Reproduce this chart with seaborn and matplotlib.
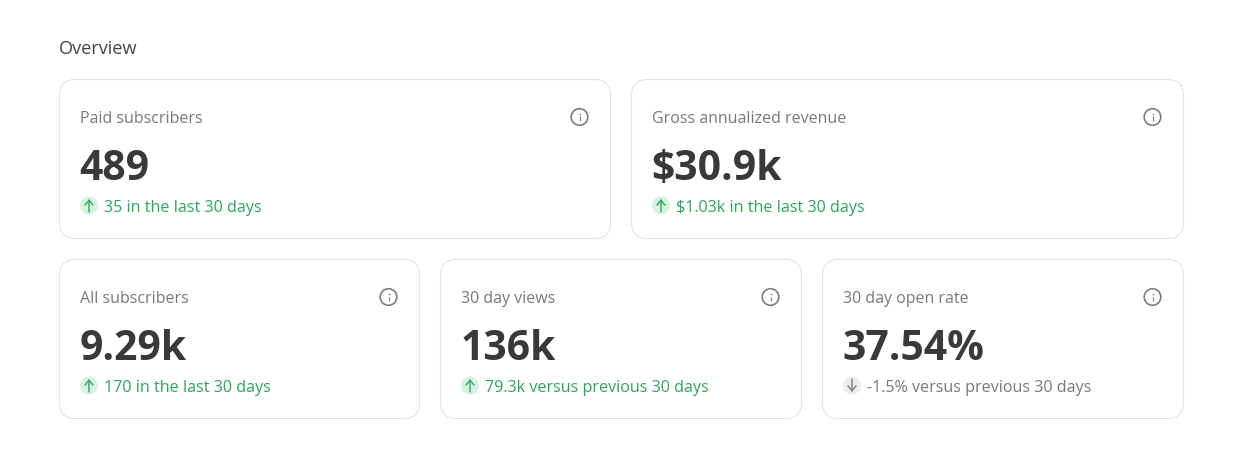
import numpy as np
import pandas as pd
import matplotlib
matplotlib.use("Agg")
import matplotlib.pyplot as plt
from matplotlib.patches import FancyBboxPatch, Circle
import seaborn as sns

# ==================== Data ==================== #
heading = "Overview"
titles = ["Paid subscribers", "Gross annualized revenue", "All subscribers", "30 day views", "30 day open rate"]
values = ["489", "$30.9k", "9.29k", "136k", "37.54%"]
deltas = ["35 in the last 30 days", "$1.03k in the last 30 days", "170 in the last 30 days",
          "79.3k versus previous 30 days", "-1.5% versus previous 30 days"]
directions = ["up", "up", "up", "up", "down"]

# card boxes in pixels: left, top, right, bottom
lefts = [59.5, 631.5, 59.5, 440.5, 822.5]
rights = [610.5, 1183.5, 419.5, 801.5, 1183.5]
tops = [79.5, 79.5, 259.5, 259.5, 259.5]
height = 159

DARK = "#3b3938"
GREY = "#7b7977"
GREEN = "#2aa85a"
FONT = "Open Sans"

sns.set_theme(style="white")
plt.rcParams['font.family'] = [FONT, 'DejaVu Sans']

fig = plt.figure(figsize=(12.39, 4.61), dpi=100)
ax = fig.add_axes([0, 0, 1, 1])
ax.set_xlim(0, 1239)
ax.set_ylim(461, 0)
ax.axis("off")

ax.text(58.5, 49.5, heading, fontsize=13.1, color="#454341", va="center", ha="left")


def draw_card(l, r, t, title, value, delta, direction):
    rad = 16
    ax.add_patch(FancyBboxPatch((l + rad, t + rad), r - l - 2 * rad, height - 2 * rad,
                                boxstyle="round,pad=%d,rounding_size=%d" % (rad, rad),
                                fc="white", ec="#e3e3e3", lw=0.8))
    ax.text(l + 20.5, t + 39, title, fontsize=11.55, color=GREY, va="center", ha="left")
    ax.text(l + 20, t + 89.5, value, fontsize=29.4, color=DARK, fontweight="bold", va="center", ha="left")

    # info icon
    cx, cy = r - 31, t + 37.5
    ax.add_patch(Circle((cx, cy), 8.3, fc="none", ec="#7f7d7b", lw=1.2))
    ax.plot([cx, cx], [cy - 0.5, cy + 3.8], color="#8a8886", lw=0.9, solid_capstyle="butt")
    ax.plot([cx], [cy - 3.4], marker="o", ms=1.2, mew=0, color="#7f7d7b")

    up = direction == "up"
    col = GREEN if up else GREY
    bx, by = l + 29.5, t + 126
    ax.add_patch(Circle((bx, by), 9, fc="#d9f2e1" if up else "#ececec", ec="none"))
    y0, y1 = (by + 6.5, by - 6.5) if up else (by - 6.5, by + 6.5)
    ax.annotate("", xy=(bx, y1), xytext=(bx, y0),
                arrowprops=dict(arrowstyle="->,head_length=0.3,head_width=0.24", color=col, lw=1.0,
                                shrinkA=0, shrinkB=0))
    ax.text(l + 44.5, t + 128, delta, fontsize=11.6, color=col, va="center", ha="left")


for i in range(len(titles)):
    draw_card(lefts[i], rights[i], tops[i], titles[i], values[i], deltas[i], directions[i])

fig.savefig("out.png", dpi=100, facecolor="white")
